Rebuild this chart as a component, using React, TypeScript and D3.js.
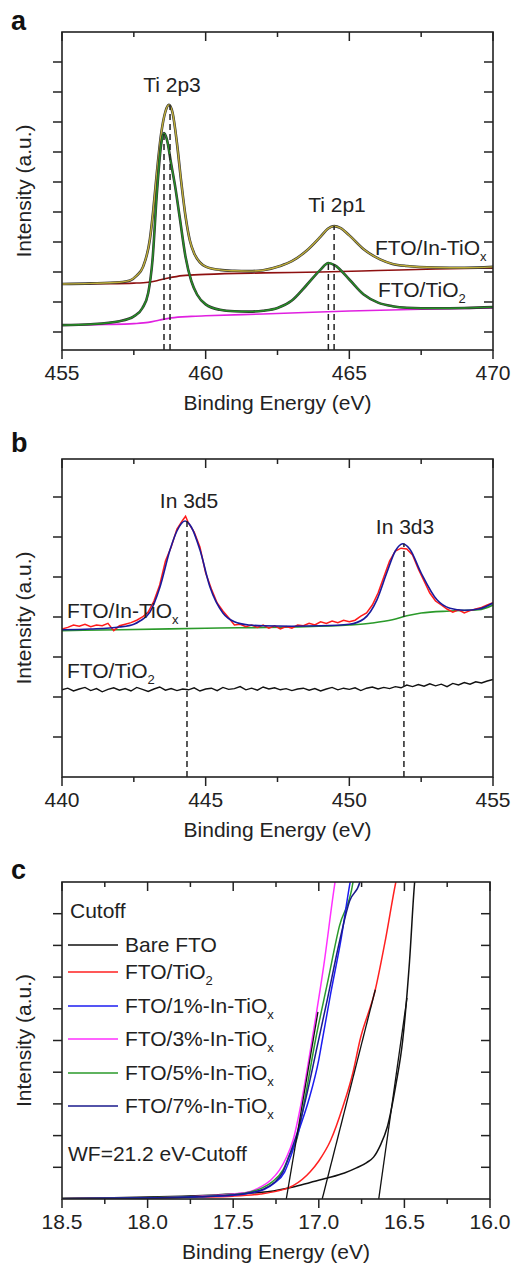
import React from "react";
import * as d3 from "d3";

const FONT = "'Liberation Sans', Arial, Helvetica, sans-serif";

// ---------- Panel a : Ti 2p ----------
const aInTiOx: [number, number][] = [
  [455.0, 1.6], [456.0, 1.62], [457.0, 1.66], [457.37, 1.72], [457.6, 1.88], [457.82, 2.17],
  [458.06, 3.1], [458.17, 4.0], [458.3, 5.3], [458.45, 6.6], [458.6, 7.35], [458.72, 7.57],
  [458.85, 7.3], [459.0, 6.3], [459.15, 5.0], [459.3, 3.85], [459.45, 3.05], [459.6, 2.62],
  [459.8, 2.32], [460.0, 2.18], [460.5, 2.07], [461.0, 2.04], [461.5, 2.03], [462.0, 2.06],
  [462.59, 2.2], [463.0, 2.36], [463.5, 2.7], [464.0, 3.18], [464.25, 3.44], [464.47, 3.53],
  [464.7, 3.46], [465.0, 3.22], [465.5, 2.76], [466.07, 2.42], [466.5, 2.27], [467.0, 2.2],
  [468.0, 2.15], [469.0, 2.14], [470.0, 2.17],
];
const aInTiOxBg: [number, number][] = [
  [455.0, 1.6], [456.5, 1.61], [457.5, 1.63], [458.0, 1.66], [458.3, 1.71], [458.7, 1.8],
  [459.2, 1.88], [460.0, 1.92], [462.0, 1.97], [464.0, 2.0], [466.0, 2.05], [468.0, 2.1], [470.0, 2.13],
];
const aTiO2: [number, number][] = [
  [455.0, 0.23], [456.0, 0.26], [457.0, 0.36], [457.5, 0.52], [457.8, 0.8], [458.0, 1.3],
  [458.15, 2.4], [458.3, 4.6], [458.45, 6.25], [458.55, 6.63], [458.65, 6.42], [458.8, 5.6],
  [458.93, 4.9], [459.1, 3.8], [459.3, 2.5], [459.5, 1.7], [459.7, 1.25], [460.0, 0.92],
  [460.5, 0.74], [461.0, 0.69], [461.5, 0.68], [462.0, 0.71], [462.5, 0.8], [463.0, 1.05],
  [463.5, 1.55], [464.0, 2.08], [464.27, 2.3], [464.5, 2.22], [465.0, 1.75], [465.5, 1.25],
  [466.0, 0.98], [466.5, 0.86], [467.0, 0.81], [468.0, 0.79], [469.0, 0.8], [470.0, 0.83],
];
const aTiO2Bg: [number, number][] = [
  [455.0, 0.23], [456.5, 0.25], [457.5, 0.28], [458.0, 0.32], [458.4, 0.4], [458.8, 0.47],
  [459.5, 0.52], [460.0, 0.54], [462.0, 0.6], [465.0, 0.7], [467.5, 0.76], [470.0, 0.8],
];
const aPeakLines: [number, number][] = [
  [458.55, 6.63], [458.76, 7.57], [464.27, 2.3], [464.47, 3.53],
];

// ---------- Panel b : In 3d ----------
const bFit: [number, number][] = [
  [440.0, 3.68], [441.0, 3.7], [442.0, 3.75], [442.5, 3.82], [442.71, 3.9], [443.06, 4.12],
  [443.41, 4.75], [443.76, 5.68], [444.0, 6.15], [444.28, 6.4], [444.5, 6.25], [444.8, 5.68],
  [445.15, 4.75], [445.6, 4.1], [446.0, 3.88], [446.5, 3.8], [447.0, 3.78], [448.0, 3.77],
  [449.0, 3.78], [450.0, 3.82], [450.5, 3.95], [450.96, 4.43], [451.3, 5.1], [451.6, 5.65],
  [451.86, 5.83], [452.1, 5.7], [452.5, 5.1], [453.05, 4.43], [453.5, 4.22], [454.0, 4.17],
  [454.5, 4.2], [455.0, 4.35],
];
const bBg: [number, number][] = [
  [440.0, 3.66], [442.0, 3.68], [445.0, 3.72], [448.0, 3.75], [450.0, 3.8], [450.8, 3.85],
  [451.5, 3.93], [452.0, 4.03], [452.5, 4.1], [453.5, 4.15], [454.5, 4.18], [455.0, 4.3],
];
const bInData: [number, number][] = [
  [440.0, 3.7], [440.2, 3.74], [440.4, 3.8], [440.6, 3.77], [440.8, 3.82], [441.0, 3.76],
  [441.2, 3.8], [441.4, 3.78], [441.6, 3.84], [441.8, 3.66], [442.0, 3.78], [442.2, 3.82],
  [442.4, 3.86], [442.6, 3.92], [442.8, 4.0], [443.0, 4.12], [443.2, 4.4], [443.4, 4.8],
  [443.6, 5.4], [443.8, 5.75], [444.0, 6.2], [444.2, 6.42], [444.3, 6.52], [444.4, 6.35],
  [444.6, 6.12], [444.8, 5.75], [445.0, 5.1], [445.2, 4.7], [445.4, 4.35], [445.6, 4.15],
  [445.8, 3.98], [446.0, 3.8], [446.2, 3.82], [446.4, 3.76], [446.6, 3.8], [446.8, 3.74],
  [447.0, 3.8], [447.2, 3.72], [447.4, 3.78], [447.6, 3.7], [447.8, 3.76], [448.0, 3.72],
  [448.2, 3.8], [448.4, 3.78], [448.6, 3.84], [448.8, 3.8], [449.0, 3.88], [449.2, 3.84],
  [449.4, 3.9], [449.6, 3.86], [449.8, 3.92], [450.0, 3.88], [450.2, 3.92], [450.4, 4.02],
  [450.6, 4.1], [450.8, 4.3], [451.0, 4.6], [451.2, 5.0], [451.4, 5.4], [451.6, 5.65],
  [451.8, 5.72], [452.0, 5.7], [452.2, 5.55], [452.4, 5.2], [452.6, 4.9], [452.8, 4.6],
  [453.0, 4.4], [453.2, 4.3], [453.4, 4.2], [453.6, 4.12], [453.8, 4.18], [454.0, 4.1],
  [454.2, 4.16], [454.4, 4.2], [454.6, 4.24], [454.8, 4.3], [455.0, 4.36],
];
const bTiO2Data: [number, number][] = [
  [440.0, 2.18], [440.2, 2.22], [440.4, 2.15], [440.6, 2.2], [440.8, 2.24], [441.0, 2.16],
  [441.2, 2.21], [441.4, 2.13], [441.6, 2.19], [441.8, 2.23], [442.0, 2.17], [442.2, 2.21],
  [442.4, 2.15], [442.6, 2.24], [442.8, 2.19], [443.0, 2.14], [443.2, 2.2], [443.4, 2.25],
  [443.6, 2.17], [443.8, 2.21], [444.0, 2.16], [444.2, 2.2], [444.4, 2.18], [444.6, 2.23],
  [444.8, 2.15], [445.0, 2.2], [445.2, 2.22], [445.4, 2.16], [445.6, 2.24], [445.8, 2.19],
  [446.0, 2.21], [446.2, 2.26], [446.4, 2.18], [446.6, 2.22], [446.8, 2.17], [447.0, 2.25],
  [447.2, 2.2], [447.4, 2.23], [447.6, 2.18], [447.8, 2.21], [448.0, 2.16], [448.2, 2.2],
  [448.4, 2.22], [448.6, 2.17], [448.8, 2.21], [449.0, 2.15], [449.2, 2.2], [449.4, 2.24],
  [449.6, 2.18], [449.8, 2.22], [450.0, 2.19], [450.2, 2.23], [450.4, 2.16], [450.6, 2.22],
  [450.8, 2.25], [451.0, 2.2], [451.2, 2.24], [451.4, 2.21], [451.6, 2.26], [451.8, 2.23],
  [452.0, 2.3], [452.2, 2.26], [452.4, 2.31], [452.6, 2.27], [452.8, 2.33], [453.0, 2.28],
  [453.2, 2.32], [453.4, 2.26], [453.6, 2.34], [453.8, 2.3], [454.0, 2.36], [454.2, 2.32],
  [454.4, 2.38], [454.6, 2.35], [454.8, 2.4], [455.0, 2.44],
];
const bPeakLines: [number, number][] = [[444.35, 6.4], [451.9, 5.83]];

// ---------- Panel c : UPS cutoff ----------
const cBare: [number, number][] = [
  [18.5, 0.02], [18.2, 0.04], [18.0, 0.06], [17.8, 0.09], [17.6, 0.13], [17.45, 0.17],
  [17.3, 0.23], [17.15, 0.38], [17.05, 0.52], [16.95, 0.66], [16.85, 0.82], [16.78, 0.98],
  [16.72, 1.15], [16.68, 1.32], [16.64, 1.7], [16.6, 2.27], [16.55, 3.6], [16.51, 5.0],
  [16.47, 7.5], [16.44, 10.0], [16.43, 10.5],
];
const cTiO2: [number, number][] = [
  [18.5, 0.01], [18.0, 0.03], [17.7, 0.06], [17.5, 0.09], [17.34, 0.16], [17.25, 0.24],
  [17.15, 0.42], [17.05, 0.86], [17.0, 1.2], [16.93, 1.86], [16.86, 2.9], [16.8, 4.0],
  [16.76, 5.0], [16.67, 6.6], [16.61, 8.2], [16.55, 10.0], [16.53, 10.5],
];
const c1: [number, number][] = [
  [18.5, 0.01], [18.0, 0.03], [17.7, 0.07], [17.5, 0.12], [17.4, 0.19], [17.32, 0.3],
  [17.26, 0.5], [17.2, 0.85], [17.16, 1.4], [17.12, 2.1], [17.06, 3.1], [17.0, 4.4],
  [16.98, 5.0], [16.93, 6.5], [16.87, 8.2], [16.82, 9.9], [16.8, 10.5],
];
const c3: [number, number][] = [
  [18.5, 0.01], [18.0, 0.04], [17.7, 0.09], [17.5, 0.16], [17.4, 0.24], [17.34, 0.38],
  [17.28, 0.6], [17.23, 0.91], [17.19, 1.3], [17.15, 1.86], [17.1, 3.1], [17.04, 5.0],
  [16.97, 7.4], [16.905, 10.0], [16.89, 10.5],
];
const c5: [number, number][] = [
  [18.5, 0.01], [18.0, 0.04], [17.7, 0.08], [17.5, 0.14], [17.4, 0.22], [17.33, 0.35],
  [17.27, 0.55], [17.21, 0.91], [17.17, 1.4], [17.13, 1.86], [17.08, 3.2], [17.02, 5.0],
  [16.95, 6.8], [16.88, 8.6], [16.8, 10.0], [16.79, 10.5],
];
const c7: [number, number][] = [
  [18.5, 0.01], [18.0, 0.03], [17.7, 0.07], [17.5, 0.13], [17.4, 0.2], [17.32, 0.32],
  [17.26, 0.52], [17.21, 0.85], [17.17, 1.4], [17.12, 2.2], [17.07, 3.3], [17.01, 4.8],
  [16.95, 6.3], [16.88, 8.1], [16.82, 9.4], [16.76, 10.0], [16.75, 10.5],
];
const cTangents: [number, number, number, number][] = [
  [16.65, 0, 16.485, 6.34],
  [16.98, 0, 16.67, 6.6],
  [17.19, 0, 17.005, 5.9],
];
const cLegendNames = ["Bare FTO", "FTO/TiO", "FTO/1%-In-TiO", "FTO/3%-In-TiO", "FTO/5%-In-TiO", "FTO/7%-In-TiO"];
const cLegendSubs = ["", "2", "x", "x", "x", "x"];
const cColors = ["#111111", "#ff2020", "#1c1cf0", "#ff30ff", "#2a9a2a", "#1a1a8c"];

type Pt = [number, number];

function Frame(props: {
  x: d3.ScaleLinear<number, number>;
  y: d3.ScaleLinear<number, number>;
  xMajor: number[];
  xMinor: number[];
  yTicks: number[];
  fmt: (v: number) => string;
}) {
  const { x, y, xMajor, xMinor, yTicks, fmt } = props;
  const [x0, x1] = x.range();
  const [y0, y1] = y.range();
  const L = Math.min(x0, x1), R = Math.max(x0, x1);
  const B = Math.max(y0, y1), T = Math.min(y0, y1);
  const st = "#222";
  return (
    <g>
      {xMajor.map((v) => (
        <g key={"M" + v}>
          <line x1={x(v)} x2={x(v)} y1={B} y2={B + 9} stroke={st} strokeWidth={1.5} />
          <line x1={x(v)} x2={x(v)} y1={T} y2={T + 9} stroke={st} strokeWidth={1.5} />
          <text x={x(v)} y={B + 30} textAnchor="middle" fontSize={21} fontFamily={FONT} fill="#222">
            {fmt(v)}
          </text>
        </g>
      ))}
      {xMinor.map((v) => (
        <g key={"m" + v}>
          <line x1={x(v)} x2={x(v)} y1={B} y2={B + 5} stroke={st} strokeWidth={1.5} />
          <line x1={x(v)} x2={x(v)} y1={T} y2={T + 5} stroke={st} strokeWidth={1.5} />
        </g>
      ))}
      {yTicks.map((v) => (
        <g key={"y" + v}>
          <line x1={L - 9} x2={L} y1={y(v)} y2={y(v)} stroke={st} strokeWidth={1.5} />
          <line x1={R - 9} x2={R} y1={y(v)} y2={y(v)} stroke={st} strokeWidth={1.5} />
        </g>
      ))}
      <rect x={L} y={T} width={R - L} height={B - T} fill="none" stroke={st} strokeWidth={1.6} />
      <text x={(L + R) / 2} y={B + 60} textAnchor="middle" fontSize={21} fontFamily={FONT} fill="#222">
        Binding Energy (eV)
      </text>
      <text
        transform={`translate(31,${(T + B) / 2}) rotate(-90)`}
        textAnchor="middle"
        fontSize={21}
        fontFamily={FONT}
        fill="#222"
      >
        Intensity (a.u.)
      </text>
    </g>
  );
}

function Sub(props: { x: number; y: number; main: string; sub: string; size?: number; anchor?: string }) {
  const s = props.size || 21;
  return (
    <text x={props.x} y={props.y} fontSize={s} fontFamily={FONT} fill="#222" textAnchor={props.anchor || "start"}>
      {props.main}
      {props.sub ? (
        <tspan fontSize={s * 0.62} dy={6}>
          {props.sub}
        </tspan>
      ) : null}
    </text>
  );
}

export default function App() {
  // panel a
  const ax = d3.scaleLinear().domain([455, 470]).range([62, 493]);
  const ay = d3.scaleLinear().domain([-0.6, 10]).range([350, 32]);
  const aLine = d3.line<Pt>().x((d) => ax(d[0])).y((d) => ay(d[1])).curve(d3.curveMonotoneX);
  // panel b
  const bx = d3.scaleLinear().domain([440, 455]).range([62, 493]);
  const by = d3.scaleLinear().domain([0, 7.95]).range([777, 459]);
  const bSmooth = d3.line<Pt>().x((d) => bx(d[0])).y((d) => by(d[1])).curve(d3.curveMonotoneX);
  const bRaw = d3.line<Pt>().x((d) => bx(d[0])).y((d) => by(d[1]));
  // panel c
  const cx = d3.scaleLinear().domain([18.5, 16.0]).range([62, 490]);
  const cy = d3.scaleLinear().domain([0, 10]).range([1199, 882]);
  const cLine = d3.line<Pt>().x((d) => cx(d[0])).y((d) => cy(d[1])).curve(d3.curveMonotoneX);
  const cSeries = [cBare, cTiO2, c1, c3, c5, c7];
  const cDrawOrder = [0, 1, 3, 4, 2, 5];
  const legendY = [945, 972, 1006, 1039, 1073, 1106];

  return (
    <div style={{ position: "absolute", left: 0, top: 0 }}>
      <svg width={512} height={1270} style={{ display: "block", background: "#fff" }}>
        <defs>
          <clipPath id="clipA"><rect x={62} y={32} width={431} height={318} /></clipPath>
          <clipPath id="clipB"><rect x={62} y={459} width={431} height={318} /></clipPath>
          <clipPath id="clipC"><rect x={62} y={882} width={428} height={317} /></clipPath>
        </defs>

        {/* ---- panel a ---- */}
        <text x={11} y={30} fontSize={27} fontWeight="bold" fontFamily={FONT} fill="#111">a</text>
        <g clipPath="url(#clipA)">
          <path d={aLine(aInTiOxBg) || ""} fill="none" stroke="#8e1010" strokeWidth={1.6} />
          <path d={aLine(aTiO2Bg) || ""} fill="none" stroke="#e020e0" strokeWidth={1.6} />
          <path d={aLine(aInTiOx) || ""} fill="none" stroke="#333" strokeWidth={2.6} />
          <path d={aLine(aInTiOx) || ""} fill="none" stroke="#bfae3a" strokeWidth={1.4} />
          <path d={aLine(aTiO2) || ""} fill="none" stroke="#333" strokeWidth={2.6} />
          <path d={aLine(aTiO2) || ""} fill="none" stroke="#259025" strokeWidth={1.4} />
          {aPeakLines.map((p, i) => (
            <line key={i} x1={ax(p[0])} x2={ax(p[0])} y1={ay(-0.6)} y2={ay(p[1])}
              stroke="#222" strokeWidth={1.5} strokeDasharray="6,4" />
          ))}
        </g>
        <Frame x={ax} y={ay} xMajor={[455, 460, 465, 470]} xMinor={[457.5, 462.5, 467.5]}
          yTicks={[0, 1, 2, 3, 4, 5, 6, 7, 8, 9]} fmt={(v) => String(v)} />
        <text x={172} y={92} textAnchor="middle" fontSize={21} fontFamily={FONT} fill="#222">Ti 2p3</text>
        <text x={337} y={212} textAnchor="middle" fontSize={21} fontFamily={FONT} fill="#222">Ti 2p1</text>
        <Sub x={375} y={255} main="FTO/In-TiO" sub="x" />
        <Sub x={378} y={297} main="FTO/TiO" sub="2" />

        {/* ---- panel b ---- */}
        <text x={11} y={452} fontSize={27} fontWeight="bold" fontFamily={FONT} fill="#111">b</text>
        <g clipPath="url(#clipB)">
          <path d={bRaw(bTiO2Data) || ""} fill="none" stroke="#111" strokeWidth={1.4} />
          <path d={bSmooth(bBg) || ""} fill="none" stroke="#2a9a2a" strokeWidth={1.6} />
          <path d={bRaw(bInData) || ""} fill="none" stroke="#ff1a1a" strokeWidth={1.5} />
          <path d={bSmooth(bFit) || ""} fill="none" stroke="#1a1a9c" strokeWidth={1.6} />
          {bPeakLines.map((p, i) => (
            <line key={i} x1={bx(p[0])} x2={bx(p[0])} y1={by(0)} y2={by(p[1])}
              stroke="#222" strokeWidth={1.5} strokeDasharray="6,4" />
          ))}
        </g>
        <Frame x={bx} y={by} xMajor={[440, 445, 450, 455]} xMinor={[442.5, 447.5, 452.5]}
          yTicks={[1, 2, 3, 4, 5, 6, 7]} fmt={(v) => String(v)} />
        <text x={189} y={508} textAnchor="middle" fontSize={21} fontFamily={FONT} fill="#222">In 3d5</text>
        <text x={405} y={534} textAnchor="middle" fontSize={21} fontFamily={FONT} fill="#222">In 3d3</text>
        <Sub x={67} y={618} main="FTO/In-TiO" sub="x" />
        <Sub x={67} y={678} main="FTO/TiO" sub="2" />

        {/* ---- panel c ---- */}
        <text x={11} y={879} fontSize={27} fontWeight="bold" fontFamily={FONT} fill="#111">c</text>
        <g clipPath="url(#clipC)">
          {cDrawOrder.map((i) => (
            <path key={i} d={cLine(cSeries[i]) || ""} fill="none" stroke={cColors[i]} strokeWidth={1.5} />
          ))}
          {cTangents.map((t, i) => (
            <line key={i} x1={cx(t[0])} y1={cy(t[1])} x2={cx(t[2])} y2={cy(t[3])} stroke="#111" strokeWidth={1.3} />
          ))}
        </g>
        <Frame x={cx} y={cy}
          xMajor={[18.5, 18.0, 17.5, 17.0, 16.5, 16.0]}
          xMinor={[18.25, 17.75, 17.25, 16.75, 16.25]}
          yTicks={[1, 2, 3, 4, 5, 6, 7, 8, 9]} fmt={d3.format(".1f")} />
        <text x={70} y={918} fontSize={21} fontFamily={FONT} fill="#222">Cutoff</text>
        {cLegendNames.map((n, i) => (
          <g key={n}>
            <line x1={68} x2={118} y1={legendY[i]} y2={legendY[i]} stroke={cColors[i]} strokeWidth={1.5} />
            <Sub x={125} y={legendY[i] + 7} main={n} sub={cLegendSubs[i]} />
          </g>
        ))}
        <text x={68} y={1161} fontSize={21} fontFamily={FONT} fill="#222">WF=21.2 eV-Cutoff</text>
      </svg>
    </div>
  );
}
